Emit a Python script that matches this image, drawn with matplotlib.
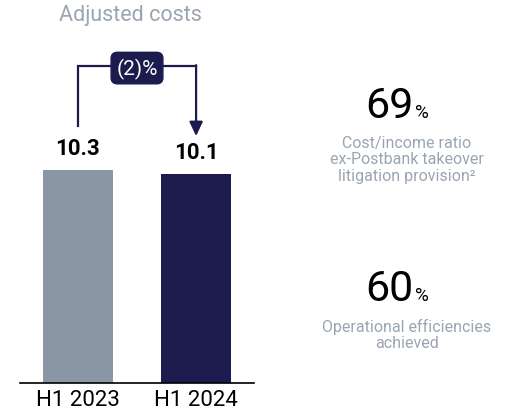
import matplotlib.pyplot as plt

plt.rcParams['font.family'] = ['Roboto', 'DejaVu Sans']

# data
periods = ['H1 2023', 'H1 2024']
costs = [10.3, 10.1]
bar_colors = ['#8a96a3', '#1b1b4d']
change_label = '(2)%'
kpi_values = ['69', '60']
kpi_texts = ['Cost/income ratio\nex-Postbank takeover\nlitigation provision\u00b2',
             'Operational efficiencies\nachieved']

navy = '#1b1b4d'
grey_txt = '#9aa5b1'

fig = plt.figure(figsize=(5.10, 4.14), dpi=100)
ax = fig.add_axes([20 / 510, 30 / 414, 234 / 510, 384 / 414])

x = range(len(periods))
ax.bar(x, costs, width=0.593, color=bar_colors)
ax.set_xlim(-0.49, 1.49)
ax.set_ylim(0, 18.57)

for i, v in enumerate(costs):
    ax.text(i, v + 0.55, f'{v}', ha='center', va='bottom', fontsize=16,
            fontweight='bold', color='black')

# connector arrow between the bars
y_top = 15.33
ax.plot([0, 0, 1], [costs[0] + 2.13, y_top, y_top],
        color=navy, lw=1.6, solid_joinstyle='miter')
ax.annotate('', xy=(1, costs[1] + 1.84), xytext=(1, y_top + 0.04),
            arrowprops=dict(arrowstyle='-|>,head_length=0.85,head_width=0.4',
                            color=navy, lw=1.6, shrinkA=0, shrinkB=0))
ax.text(0.5, y_top - 0.1, change_label, ha='center', va='center', fontsize=15,
        color='white',
        bbox=dict(boxstyle='round,pad=0.25,rounding_size=0.3', fc=navy, ec=navy))

ax.set_xticks(list(x))
ax.set_xticklabels(periods, fontsize=16)
ax.tick_params(axis='x', length=0, pad=4)
ax.set_yticks([])
for s in ['top', 'left', 'right']:
    ax.spines[s].set_visible(False)
ax.spines['bottom'].set_linewidth(1.2)

fig.text(130 / 510, 1 - 16 / 414, 'Adjusted costs', ha='center', va='center',
         fontsize=15.5, color=grey_txt)

# KPI blocks on the right
kpi_base = [118, 301]
for val, txt, yy in zip(kpi_values, kpi_texts, kpi_base):
    fig.text(414 / 510, 1 - yy / 414, val, ha='right', va='baseline',
             fontsize=31, color='black')
    fig.text(415 / 510, 1 - yy / 414, '%', ha='left', va='baseline',
             fontsize=13.5, color='black')
    fig.text(407 / 510, 1 - (yy + 18) / 414, txt, ha='center', va='top',
             fontsize=11.5, color=grey_txt, linespacing=1.12)

fig.savefig('out.png', dpi=100)
